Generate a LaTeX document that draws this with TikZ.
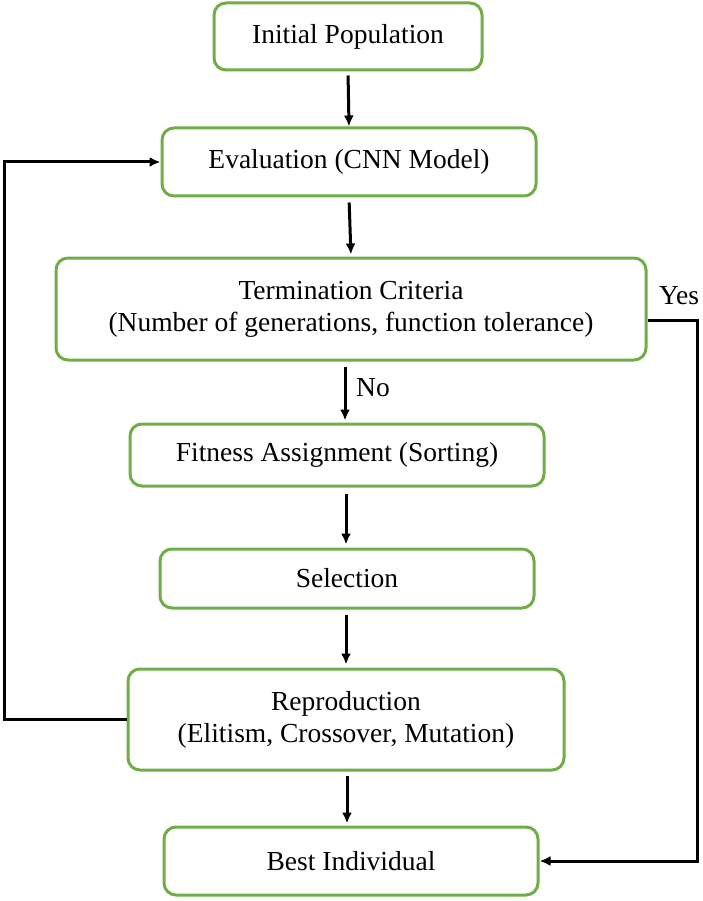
\documentclass[tikz,border=0pt]{standalone}
\usepackage{fontspec}
\setmainfont{Liberation Serif}
\usetikzlibrary{arrows.meta}
\definecolor{boxgreen}{HTML}{70AD47}
\begin{document}
\begin{tikzpicture}[x=1pt,y=-1pt,
  box/.style={draw=boxgreen,line width=3pt,rounded corners=12pt,fill=white,
    align=center,inner sep=0pt,font=\fontsize{27.5}{32}\selectfont},
  arr/.style={draw=black,line width=3pt,-{Latex[length=11pt,width=10pt]}},
  lbl/.style={font=\fontsize{27.5}{32}\selectfont,inner sep=0pt}]
\useasboundingbox (0,0) rectangle (703,901);
\node[box,minimum width=268pt,minimum height=67pt] (init) at (348,36.5) {Initial Population};
\node[box,minimum width=374pt,minimum height=68pt] (eval) at (349,162) {Evaluation (CNN Model)};
\node[box,minimum width=590pt,minimum height=102pt] (term) at (351,309) {Termination Criteria\\(Number of generations, function tolerance)};
\node[box,minimum width=414pt,minimum height=62pt] (fit) at (337,455) {Fitness Assignment (Sorting)};
\node[box,minimum width=374pt,minimum height=59pt] (sel) at (347,578.5) {Selection};
\node[box,minimum width=436pt,minimum height=101pt] (rep) at (346,719.5) {Reproduction\\(Elitism, Crossover, Mutation)};
\node[box,minimum width=374pt,minimum height=68pt] (best) at (351,861) {Best Individual};
\draw[arr,shorten <=4pt] (init.south) -- (eval.north);
\draw[arr,shorten <=5pt,shorten >=2pt] (eval.south) -- (term.north);
\draw[arr,shorten <=5pt,shorten >=2pt] ([xshift=-6pt]term.south) -- ([xshift=8pt]fit.north);
\draw[arr,shorten <=6pt,shorten >=3pt] ([xshift=9pt]fit.south) -- ([xshift=-1pt]sel.north);
\draw[arr,shorten <=5pt,shorten >=3pt] ([xshift=-1pt]sel.south) -- (rep.north);
\draw[arr,shorten <=4pt,shorten >=2pt] ([xshift=1pt]rep.south) -- ([xshift=-4pt]best.north);
\coordinate (lc) at (4,718);
\coordinate (rc) at (697,320);
\draw[arr] (rep.west) -- (rep.west -| lc) |- (eval.west);
\draw[arr] ([yshift=-11pt]term.east) -- (rc) |- (best.east);
\node[lbl,anchor=west] (no) at (356,388) {No};
\node[lbl] (yes) at (679,296) {Yes};
\end{tikzpicture}
\end{document}
